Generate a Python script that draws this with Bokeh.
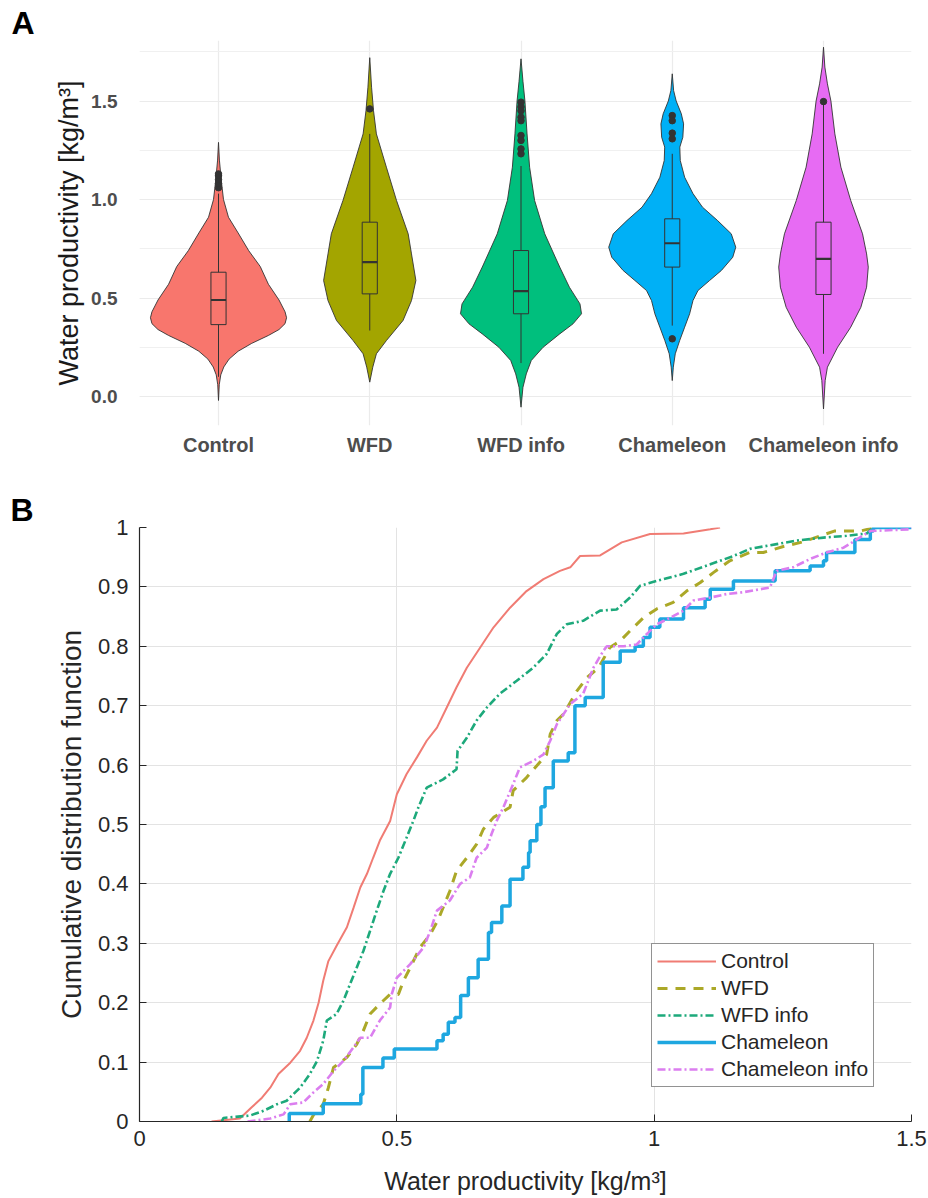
import numpy as np
from bokeh.plotting import figure
from bokeh.layouts import column
from bokeh.models import (FixedTicker, SingleIntervalTicker, Title, Range1d,
                          CustomJSTickFormatter)
from bokeh.embed import file_html
from bokeh.resources import INLINE

# ---------------- Panel A data (violins + boxplots) ----------------
groups = ["Control", "WFD", "WFD info", "Chameleon", "Chameleon info"]
violin_colors = ["#F8766D", "#A3A500", "#00BF7D", "#00B0F6", "#E76BF3"]

ctrl_lv = [-0.02, 0.06, 0.11, 0.15, 0.19, 0.23, 0.27, 0.31, 0.34, 0.37, 0.40, 0.43, 0.49, 0.57, 0.66, 0.74, 0.83, 0.91, 1.00, 1.10, 1.20, 1.29]
ctrl_hw = [0.0, 0.005, 0.015, 0.035, 0.07, 0.13, 0.22, 0.33, 0.40, 0.44, 0.45, 0.44, 0.40, 0.33, 0.276, 0.20, 0.13, 0.066, 0.033, 0.018, 0.006, 0.0]

wfd_lv = [0.073, 0.149, 0.217, 0.284, 0.386, 0.487, 0.589, 0.724, 0.826, 0.995, 1.164, 1.333, 1.45, 1.57, 1.72]
wfd_hw = [0.0, 0.02, 0.044, 0.11, 0.22, 0.276, 0.305, 0.276, 0.254, 0.177, 0.11, 0.044, 0.025, 0.012, 0.0]

wfdi_lv = [-0.054, 0.047, 0.115, 0.183, 0.25, 0.318, 0.369, 0.42, 0.47, 0.555, 0.657, 0.826, 0.995, 1.164, 1.333, 1.5, 1.6, 1.714]
wfdi_hw = [0.0, 0.013, 0.035, 0.068, 0.146, 0.256, 0.344, 0.40, 0.39, 0.32, 0.256, 0.157, 0.09, 0.057, 0.04, 0.026, 0.013, 0.0]

cham_lv = [0.081, 0.149, 0.217, 0.284, 0.352, 0.42, 0.487, 0.538, 0.589, 0.64, 0.707, 0.758, 0.826, 0.893, 0.961, 1.03, 1.113, 1.198, 1.266, 1.316, 1.384, 1.435, 1.5, 1.553, 1.638]
cham_hw = [0.0, 0.007, 0.02, 0.049, 0.082, 0.115, 0.137, 0.17, 0.247, 0.325, 0.40, 0.42, 0.39, 0.30, 0.20, 0.137, 0.082, 0.053, 0.05, 0.07, 0.075, 0.06, 0.026, 0.009, 0.0]

chami_lv = [-0.063, 0.081, 0.149, 0.25, 0.352, 0.453, 0.555, 0.657, 0.724, 0.826, 0.995, 1.164, 1.333, 1.5, 1.587, 1.672, 1.773]
chami_hw = [0.0, 0.011, 0.026, 0.093, 0.18, 0.247, 0.285, 0.296, 0.285, 0.258, 0.18, 0.115, 0.075, 0.049, 0.026, 0.009, 0.0]

violin_levels = [ctrl_lv, wfd_lv, wfdi_lv, cham_lv, chami_lv]
violin_halfwidths = [ctrl_hw, wfd_hw, wfdi_hw, cham_hw, chami_hw]

box_q1 = [0.365, 0.521, 0.420, 0.657, 0.518]
box_median = [0.490, 0.682, 0.535, 0.778, 0.699]
box_q3 = [0.631, 0.885, 0.741, 0.902, 0.885]
whisker_low = [0.10, 0.335, 0.17, 0.36, 0.217]
whisker_high = [1.03, 1.333, 1.17, 1.232, 1.486]

outlier_group = [1, 1, 1, 1, 1, 2, 3, 3, 3, 3, 3, 3, 3, 3, 3, 4, 4, 4, 4, 4, 5]
outlier_value = [1.06, 1.08, 1.10, 1.12, 1.13, 1.46,
                 1.494, 1.47, 1.45, 1.418, 1.40, 1.325, 1.30, 1.257, 1.232,
                 1.426, 1.40, 1.337, 1.308, 0.293, 1.497]

# ---------------- Panel B data (empirical CDFs) ----------------
ctrl_cdf_x = [0.14, 0.195, 0.218, 0.238, 0.254, 0.27, 0.293, 0.312, 0.325, 0.338, 0.348, 0.357, 0.367, 0.383, 0.403, 0.416, 0.429, 0.442, 0.454, 0.467, 0.487, 0.50, 0.519, 0.539, 0.558, 0.578, 0.597, 0.616, 0.636, 0.662, 0.688, 0.72, 0.752, 0.785, 0.817, 0.837, 0.856, 0.895, 0.937, 0.992, 1.057, 1.109, 1.128]
ctrl_cdf_y = [0.0, 0.005, 0.024, 0.040, 0.057, 0.08, 0.099, 0.119, 0.141, 0.170, 0.20, 0.237, 0.27, 0.296, 0.327, 0.36, 0.394, 0.417, 0.444, 0.473, 0.506, 0.551, 0.585, 0.613, 0.641, 0.663, 0.697, 0.731, 0.764, 0.798, 0.832, 0.865, 0.893, 0.913, 0.927, 0.933, 0.952, 0.953, 0.975, 0.989, 0.99, 0.997, 1.0]

wfd_cdf_x = [0.331, 0.338, 0.357, 0.367, 0.377, 0.403, 0.422, 0.435, 0.448, 0.467, 0.487, 0.503, 0.513, 0.526, 0.545, 0.565, 0.581, 0.603, 0.616, 0.636, 0.655, 0.668, 0.688, 0.72, 0.726, 0.752, 0.791, 0.798, 0.811, 0.824, 0.85, 0.869, 0.892, 0.914, 0.934, 0.953, 0.979, 1.005, 1.037, 1.063, 1.089, 1.115, 1.147, 1.186, 1.212, 1.251, 1.29, 1.35, 1.40, 1.43]
wfd_cdf_y = [0.0, 0.011, 0.029, 0.057, 0.091, 0.108, 0.13, 0.153, 0.181, 0.198, 0.214, 0.214, 0.237, 0.259, 0.293, 0.315, 0.341, 0.388, 0.422, 0.444, 0.467, 0.492, 0.512, 0.529, 0.557, 0.579, 0.618, 0.652, 0.675, 0.686, 0.725, 0.747, 0.764, 0.798, 0.809, 0.826, 0.848, 0.863, 0.874, 0.893, 0.907, 0.924, 0.944, 0.958, 0.958, 0.968, 0.976, 0.994, 0.994, 1.0]

wfdi_cdf_x = [0.16, 0.163, 0.215, 0.241, 0.267, 0.286, 0.312, 0.331, 0.345, 0.357, 0.364, 0.383, 0.396, 0.409, 0.422, 0.435, 0.448, 0.461, 0.474, 0.487, 0.503, 0.519, 0.532, 0.542, 0.558, 0.59, 0.616, 0.618, 0.636, 0.655, 0.675, 0.70, 0.733, 0.765, 0.791, 0.811, 0.830, 0.862, 0.895, 0.927, 0.953, 0.973, 1.005, 1.057, 1.109, 1.154, 1.186, 1.238, 1.277, 1.329, 1.374, 1.413, 1.426]
wfdi_cdf_y = [0.0, 0.006, 0.01, 0.018, 0.029, 0.035, 0.057, 0.08, 0.102, 0.136, 0.17, 0.181, 0.203, 0.231, 0.259, 0.287, 0.321, 0.355, 0.388, 0.417, 0.444, 0.478, 0.506, 0.529, 0.562, 0.576, 0.593, 0.624, 0.646, 0.675, 0.697, 0.72, 0.742, 0.764, 0.787, 0.821, 0.837, 0.843, 0.86, 0.862, 0.882, 0.902, 0.910, 0.922, 0.938, 0.952, 0.964, 0.972, 0.978, 0.983, 0.986, 0.99, 1.0]

cham_cdf_x = [0.29, 0.291, 0.357, 0.430, 0.434, 0.473, 0.495, 0.578, 0.590, 0.600, 0.613, 0.624, 0.639, 0.658, 0.678, 0.684, 0.704, 0.720, 0.745, 0.756, 0.759, 0.772, 0.780, 0.788, 0.804, 0.833, 0.846, 0.866, 0.901, 0.934, 0.963, 0.979, 0.992, 1.011, 1.057, 1.099, 1.109, 1.154, 1.235, 1.303, 1.329, 1.335, 1.390, 1.420, 1.426, 1.5]
cham_cdf_y = [0.0, 0.0135, 0.030, 0.046, 0.091, 0.107, 0.122, 0.136, 0.147, 0.167, 0.175, 0.212, 0.242, 0.273, 0.318, 0.335, 0.363, 0.408, 0.428, 0.453, 0.4725, 0.50, 0.53, 0.562, 0.607, 0.621, 0.70, 0.714, 0.773, 0.792, 0.80, 0.815, 0.832, 0.846, 0.865, 0.879, 0.896, 0.910, 0.927, 0.935, 0.944, 0.958, 0.98, 0.994, 1.0, 1.0]

chami_cdf_x = [0.21, 0.254, 0.28, 0.293, 0.318, 0.338, 0.357, 0.377, 0.396, 0.416, 0.429, 0.448, 0.467, 0.487, 0.49, 0.50, 0.526, 0.552, 0.565, 0.578, 0.603, 0.623, 0.642, 0.655, 0.675, 0.684, 0.694, 0.707, 0.726, 0.739, 0.765, 0.785, 0.798, 0.811, 0.837, 0.862, 0.882, 0.901, 0.908, 0.94, 0.966, 0.986, 1.005, 1.031, 1.057, 1.076, 1.109, 1.141, 1.173, 1.225, 1.238, 1.27, 1.303, 1.335, 1.368, 1.394, 1.42, 1.497, 1.5]
chami_cdf_y = [0.0, 0.005, 0.012, 0.029, 0.032, 0.049, 0.063, 0.085, 0.102, 0.125, 0.141, 0.141, 0.17, 0.192, 0.214, 0.242, 0.265, 0.293, 0.321, 0.355, 0.372, 0.4, 0.411, 0.444, 0.461, 0.484, 0.506, 0.529, 0.568, 0.596, 0.607, 0.618, 0.641, 0.669, 0.703, 0.72, 0.764, 0.792, 0.80, 0.80, 0.803, 0.821, 0.837, 0.848, 0.86, 0.877, 0.882, 0.888, 0.891, 0.899, 0.927, 0.933, 0.947, 0.958, 0.966, 0.98, 0.994, 0.997, 1.0]

cdf_colors = ["#F07C74", "#ABA828", "#1DA97B", "#1EA7E0", "#DB7EEF"]
x_ticks_b = [0, 0.5, 1.0, 1.5]
y_ticks_b = [0, 0.1, 0.2, 0.3, 0.4, 0.5, 0.6, 0.7, 0.8, 0.9, 1.0]

FONT = "Liberation Sans"
LEFT, RIGHT = 139, 17   # both frames are aligned by the column layout

# ================= Panel A =================
A_TOP = 40  # top border (holds the panel letter)
px_per_cat = 151.25
pa = figure(width=928, height=470, output_backend="svg", toolbar_location=None,
            x_range=Range1d(1 - (218 - LEFT) / px_per_cat, 5 + (928 - RIGHT - 823) / px_per_cat),
            y_range=Range1d(-0.147, 1.868 - (A_TOP - 28) / 197.0),
            min_border_left=LEFT, min_border_right=RIGHT, min_border_top=A_TOP,
            min_border_bottom=45)
pa.outline_line_color = None
pa.background_fill_color = "white"

pa.add_layout(Title(text="A", align="left", offset=-128, standoff=0,
                    vertical_align="bottom", text_font=FONT, text_font_style="bold",
                    text_font_size="32px", text_color="black"), "above")

for i in range(5):
    c = i + 1
    lv = np.array(violin_levels[i])
    hw = np.array(violin_halfwidths[i])
    xs = np.concatenate([c - hw, (c + hw)[::-1]])
    ys = np.concatenate([lv, lv[::-1]])
    pa.patch(xs, ys, fill_color=violin_colors[i], line_color="#333333", line_width=0.9)

cats = np.arange(1, 6)
box_hw = 0.05
pa.segment(x0=cats, y0=whisker_low, x1=cats, y1=box_q1, line_color="#333333", line_width=1)
pa.segment(x0=cats, y0=box_q3, x1=cats, y1=whisker_high, line_color="#333333", line_width=1)
pa.quad(left=cats - box_hw, right=cats + box_hw, bottom=box_q1, top=box_q3,
        fill_alpha=0, line_color="#333333", line_width=1)
pa.segment(x0=cats - box_hw, y0=box_median, x1=cats + box_hw, y1=box_median,
           line_color="#333333", line_width=2.2)
pa.scatter(outlier_group, outlier_value, size=6.5, color="#333333")

pa.xaxis.ticker = FixedTicker(ticks=list(cats))
pa.xaxis.major_label_overrides = {int(k): g for k, g in zip(cats, groups)}
pa.yaxis.ticker = SingleIntervalTicker(interval=0.5, num_minor_ticks=2)
pa.yaxis.formatter = CustomJSTickFormatter(code="return tick.toFixed(1);")
for ax in (pa.xaxis[0], pa.yaxis[0]):
    ax.axis_line_color = None
    ax.major_tick_line_color = None
    ax.minor_tick_line_color = None
    ax.major_label_text_font = FONT
    ax.major_label_text_font_style = "bold"
    ax.major_label_text_color = "#4D4D4D"
pa.xaxis.major_label_text_font_size = "20px"
pa.xaxis.major_label_standoff = 2
pa.yaxis.major_label_text_font_size = "19px"
pa.yaxis.major_label_standoff = 16
pa.yaxis.axis_label = "Water productivity [kg/m³]"
pa.yaxis.axis_label_text_font = FONT
pa.yaxis.axis_label_text_font_style = "normal"
pa.yaxis.axis_label_text_font_size = "27px"
pa.yaxis.axis_label_text_color = "#1A1A1A"
pa.yaxis.axis_label_standoff = 4

pa.xgrid.grid_line_color = "#EBEBEB"
pa.xgrid.grid_line_width = 1.2
pa.ygrid.grid_line_color = "#EBEBEB"
pa.ygrid.grid_line_width = 1.2
pa.ygrid.minor_grid_line_color = "#F0F0F0"
pa.ygrid.minor_grid_line_width = 1

# ================= Panel B =================
pb = figure(width=928, height=728, output_backend="svg", toolbar_location=None,
            x_range=Range1d(0, 1.5), y_range=Range1d(0, 1),
            min_border_left=LEFT, min_border_right=RIGHT, min_border_top=57,
            min_border_bottom=77)
pb.outline_line_color = None

pb.add_layout(Title(text="B", align="left", offset=-129, standoff=0,
                    vertical_align="bottom", text_font=FONT, text_font_style="bold",
                    text_font_size="32px", text_color="black"), "above")

pb.line(ctrl_cdf_x, ctrl_cdf_y, line_color=cdf_colors[0], line_width=2,
        legend_label="Control")
pb.line(wfd_cdf_x, wfd_cdf_y, line_color=cdf_colors[1], line_width=3,
        line_dash="10 8", legend_label="WFD")
pb.line(wfdi_cdf_x, wfdi_cdf_y, line_color=cdf_colors[2], line_width=2.6,
        line_dash="8 3 2 3", legend_label="WFD info")
pb.step(cham_cdf_x, cham_cdf_y, mode="after", line_color=cdf_colors[3], line_width=3.5,
        legend_label="Chameleon")
pb.line(chami_cdf_x, chami_cdf_y, line_color=cdf_colors[4], line_width=2.6,
        line_dash="8 3 2 3", legend_label="Chameleon info")

pb.xaxis.ticker = FixedTicker(ticks=x_ticks_b)
pb.yaxis.ticker = FixedTicker(ticks=y_ticks_b)
fmt = "var s = tick.toFixed(1); return s.endsWith('.0') ? s.slice(0, -2) : s;"
pb.xaxis.formatter = CustomJSTickFormatter(code=fmt)
pb.yaxis.formatter = CustomJSTickFormatter(code=fmt)
for ax in (pb.xaxis[0], pb.yaxis[0]):
    ax.axis_line_color = "#262626"
    ax.axis_line_width = 1.2
    ax.major_tick_line_color = "#262626"
    ax.major_tick_in = 7
    ax.major_tick_out = 0
    ax.minor_tick_line_color = None
    ax.major_label_text_font = FONT
    ax.major_label_text_font_size = "22px"
    ax.major_label_text_color = "#262626"
    ax.axis_label_text_font = FONT
    ax.axis_label_text_font_style = "normal"
    ax.axis_label_text_color = "#262626"
pb.xaxis.major_label_standoff = 9
pb.yaxis.major_label_standoff = 11
pb.xaxis.axis_label = "Water productivity [kg/m³]"
pb.xaxis.axis_label_text_font_size = "25px"
pb.xaxis.axis_label_standoff = 18
pb.yaxis.axis_label = "Cumulative distribution function"
pb.yaxis.axis_label_text_font_size = "28px"
pb.yaxis.axis_label_standoff = 8

pb.xgrid.grid_line_color = "#E3E3E3"
pb.ygrid.grid_line_color = "#E3E3E3"
pb.xgrid.grid_line_width = 1
pb.ygrid.grid_line_width = 1

lg = pb.legend[0]
lg.location = (512, 34)
lg.border_line_color = "#262626"
lg.border_line_width = 1.2
lg.background_fill_color = "white"
lg.background_fill_alpha = 1
lg.label_text_font = FONT
lg.label_text_font_size = "21px"
lg.label_text_color = "#262626"
lg.glyph_width = 59
lg.glyph_height = 24
lg.label_height = 24
lg.spacing = 3
lg.padding = 5
lg.margin = 0
lg.label_standoff = 5

layout = column(pa, pb, spacing=0)
open("out.html", "w").write(file_html(layout, INLINE))
